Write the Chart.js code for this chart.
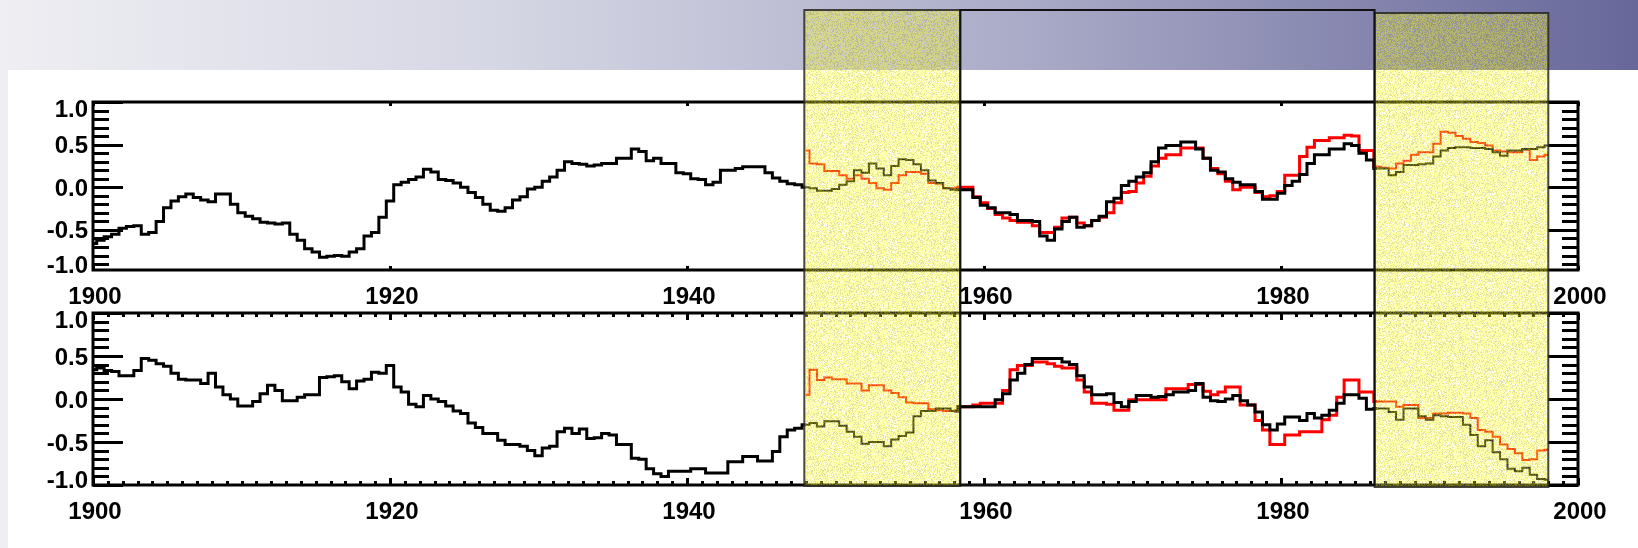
<!DOCTYPE html>
<html>
<head>
<meta charset="utf-8">
<script src="https://cdn.jsdelivr.net/npm/chart.js@4/dist/chart.umd.min.js"></script>
<style>
  html, body { margin: 0; padding: 0; width: 1638px; height: 548px; overflow: hidden; }
  body {
    position: relative;
    background: linear-gradient(to right, #eeeef3 0%, #d6d7e4 30%, #abacc8 62%, #67679a 100%);
  }
  #sheet { position: absolute; left: 8px; top: 70px; right: 0; bottom: 0; background: #ffffff; }
  canvas { position: absolute; left: 0; top: 0; }
</style>
</head>
<body>
<div id="sheet"></div>
<canvas id="upper" width="1638" height="548"></canvas>
<canvas id="lower" width="1638" height="548"></canvas>
<script>
// Half-yearly samples: black series start in 1900, red series start in 1948.
const FIRST_YEAR = 1900;
const RED_FIRST_YEAR = 1948;
const STEP = 0.5;

const yearTicks = [1900, 1920, 1940, 1960, 1980, 2000];
const valueTicks = [1.0, 0.5, 0.0, -0.5, -1.0];
const valueTickLabels = ['1.0', '0.5', '0.0', '-0.5', '-1.0'];

// Upper panel
const upperBlack = [
  -0.66,-0.62,-0.58,-0.55,-0.48,-0.46,-0.45,-0.55,-0.53,-0.40,
  -0.24,-0.16,-0.11,-0.08,-0.12,-0.15,-0.17,-0.08,-0.08,-0.20,
  -0.30,-0.34,-0.37,-0.41,-0.42,-0.43,-0.42,-0.55,-0.62,-0.72,
  -0.76,-0.82,-0.81,-0.80,-0.81,-0.76,-0.72,-0.57,-0.53,-0.35,
  -0.16,0.03,0.06,0.09,0.12,0.21,0.18,0.09,0.08,0.05,
  0.00,-0.06,-0.12,-0.20,-0.27,-0.28,-0.24,-0.15,-0.11,-0.02,
  0.00,0.07,0.12,0.20,0.30,0.28,0.27,0.25,0.26,0.28,
  0.28,0.34,0.34,0.45,0.42,0.31,0.34,0.28,0.28,0.17,
  0.16,0.10,0.09,0.03,0.06,0.20,0.20,0.22,0.24,0.24,
  0.24,0.17,0.11,0.07,0.04,0.03,0.00,-0.01,-0.04,-0.04,
  -0.02,0.03,0.07,0.20,0.17,0.28,0.22,0.14,0.25,0.33,
  0.32,0.27,0.20,0.08,0.05,-0.01,-0.03,-0.03,-0.03,-0.12,
  -0.21,-0.24,-0.30,-0.30,-0.32,-0.39,-0.39,-0.40,-0.57,-0.62,
  -0.49,-0.40,-0.35,-0.47,-0.45,-0.39,-0.34,-0.17,-0.13,0.02,
  0.07,0.12,0.17,0.30,0.46,0.49,0.49,0.53,0.53,0.45,
  0.34,0.20,0.18,0.10,0.06,0.03,0.03,-0.05,-0.14,-0.14,
  -0.07,0.02,0.07,0.15,0.28,0.38,0.38,0.45,0.45,0.51,
  0.49,0.40,0.32,0.22,0.22,0.14,0.18,0.26,0.26,0.27,
  0.28,0.36,0.43,0.46,0.47,0.47,0.46,0.46,0.45,0.41,
  0.37,0.43,0.43,0.45,0.45,0.47,0.49
];
const upperRed = [
  0.43,0.28,0.27,0.19,0.19,0.14,0.10,0.14,0.10,0.05,
  -0.01,-0.03,0.05,0.14,0.18,0.18,0.16,0.05,0.04,-0.01,
  -0.01,0.00,0.00,-0.11,-0.18,-0.25,-0.32,-0.36,-0.39,-0.41,
  -0.41,-0.45,-0.53,-0.53,-0.47,-0.36,-0.35,-0.42,-0.45,-0.39,
  -0.35,-0.30,-0.18,-0.06,-0.05,0.05,0.13,0.25,0.34,0.38,
  0.38,0.46,0.46,0.46,0.34,0.22,0.16,0.07,-0.03,0.00,
  0.00,-0.06,-0.11,-0.10,-0.05,0.14,0.14,0.36,0.47,0.55,
  0.55,0.58,0.58,0.61,0.60,0.43,0.43,0.24,0.23,0.22,
  0.28,0.31,0.38,0.41,0.41,0.51,0.65,0.64,0.60,0.57,
  0.53,0.52,0.49,0.43,0.42,0.41,0.41,0.44,0.32,0.36,
  0.38
];

// Lower panel
const lowerBlack = [
  0.34,0.36,0.33,0.32,0.27,0.27,0.33,0.47,0.45,0.41,
  0.38,0.30,0.23,0.22,0.22,0.18,0.30,0.14,0.05,0.00,
  -0.08,-0.08,-0.03,0.06,0.16,0.10,-0.02,-0.02,0.02,0.05,
  0.05,0.25,0.26,0.27,0.20,0.12,0.21,0.23,0.31,0.30,
  0.39,0.14,0.08,-0.06,-0.09,0.04,0.00,-0.03,-0.08,-0.14,
  -0.17,-0.28,-0.33,-0.40,-0.40,-0.48,-0.53,-0.53,-0.55,-0.60,
  -0.66,-0.57,-0.55,-0.38,-0.34,-0.40,-0.35,-0.46,-0.45,-0.40,
  -0.42,-0.53,-0.53,-0.69,-0.70,-0.81,-0.87,-0.90,-0.84,-0.84,
  -0.84,-0.81,-0.81,-0.86,-0.86,-0.86,-0.73,-0.73,-0.67,-0.67,
  -0.72,-0.72,-0.61,-0.44,-0.36,-0.34,-0.30,-0.28,-0.32,-0.26,
  -0.26,-0.31,-0.38,-0.44,-0.52,-0.50,-0.50,-0.55,-0.47,-0.43,
  -0.39,-0.20,-0.14,-0.14,-0.11,-0.11,-0.14,-0.09,-0.09,-0.09,
  -0.09,-0.09,-0.01,0.06,0.22,0.30,0.40,0.47,0.47,0.47,
  0.47,0.43,0.40,0.27,0.14,0.05,0.05,0.06,-0.04,-0.09,
  -0.03,0.04,0.04,0.02,0.03,0.05,0.08,0.08,0.10,0.18,
  0.02,-0.02,-0.03,0.00,0.04,-0.02,-0.07,-0.15,-0.30,-0.36,
  -0.29,-0.21,-0.21,-0.25,-0.17,-0.22,-0.19,-0.13,-0.05,0.05,
  0.05,0.01,-0.12,-0.11,-0.11,-0.15,-0.24,-0.11,-0.11,-0.20,
  -0.24,-0.19,-0.20,-0.21,-0.21,-0.30,-0.42,-0.55,-0.48,-0.62,
  -0.70,-0.81,-0.84,-0.80,-0.88,-0.93,-0.94
];
const lowerRed = [
  0.05,0.34,0.22,0.25,0.23,0.23,0.18,0.18,0.10,0.16,
  0.16,0.10,0.07,0.02,-0.04,-0.05,-0.05,-0.12,-0.13,-0.14,
  -0.14,-0.09,-0.09,-0.07,-0.05,-0.05,-0.05,0.10,0.34,0.39,
  0.39,0.43,0.43,0.41,0.38,0.36,0.36,0.22,0.08,-0.05,
  -0.05,-0.06,-0.13,-0.13,-0.01,-0.01,-0.01,-0.01,-0.01,0.12,
  0.12,0.12,0.17,0.17,0.09,0.05,0.08,0.14,0.14,-0.07,
  -0.07,-0.25,-0.36,-0.53,-0.53,-0.42,-0.42,-0.38,-0.38,-0.38,
  -0.24,-0.19,0.02,0.22,0.22,0.08,0.08,-0.03,-0.03,-0.03,
  -0.09,-0.07,-0.07,-0.22,-0.22,-0.17,-0.17,-0.16,-0.16,-0.17,
  -0.22,-0.36,-0.38,-0.44,-0.53,-0.58,-0.63,-0.71,-0.70,-0.60,
  -0.59
];

// Highlighted periods (yellow) and the framed period between them
const highlightSpans = [[1947.9, 1958.4], [1986.3, 1998.0]];
const framedSpan = [1958.4, 1986.3];

const FONT = 'bold 24px "Liberation Sans", Arial, sans-serif';

function toPoints(values, first) {
  return values.map((v, i) => ({ x: first + i * STEP, y: v }));
}

function inHighlight(year) {
  return highlightSpans.some(([a, b]) => year >= a && year <= b);
}

function seriesDataset(values, first, color) {
  return {
    data: toPoints(values, first),
    borderColor: color,
    borderWidth: 3,
    pointRadius: 0,
    stepped: 'middle',
    fill: false,
    segment: {
      borderWidth: c => (inHighlight(c.p0.parsed.x) && inHighlight(c.p1.parsed.x)) ? 2 : 3
    }
  };
}

// Frame, inward ticks on all four sides and the tick labels
const frameAxes = {
  id: 'frameAxes',
  afterDatasetsDraw(chart, args, opts) {
    const { ctx, chartArea: a, scales: { x, y } } = chart;
    ctx.save();
    ctx.strokeStyle = '#000';
    ctx.lineCap = 'butt';
    ctx.lineWidth = 3;
    const seg = (x1, y1, x2, y2) => { ctx.beginPath(); ctx.moveTo(x1, y1); ctx.lineTo(x2, y2); ctx.stroke(); };

    // value ticks every 0.1, long ones every 0.5, on left and right
    for (let k = -10; k <= 10; k++) {
      const v = k / 10;
      if (v < y.min - 1e-9 || v > y.max + 1e-9) continue;
      const py = Math.round(y.getPixelForValue(v)) + 0.5;
      const len = (k % 5 === 0) ? 30 : 16;
      seg(a.left, py, a.left + len, py);
      seg(a.right, py, a.right - len, py);
    }
    // year ticks
    for (let yr = 1900; yr <= 2000; yr++) {
      const major = yr % 20 === 0;
      if (!major && !opts.minorYears) continue;
      const px = Math.round(x.getPixelForValue(yr)) + 0.5;
      const len = major ? opts.majorLen : 4;
      seg(px, a.top, px, a.top + len);
      seg(px, a.bottom, px, a.bottom - len);
    }
    ctx.strokeRect(a.left, a.top, a.right - a.left, a.bottom - a.top);

    // labels
    ctx.fillStyle = '#000';
    ctx.font = FONT;
    ctx.textBaseline = 'alphabetic';
    ctx.textAlign = 'right';
    valueTicks.forEach((v, i) => {
      let py = y.getPixelForValue(v);
      py = Math.min(Math.max(py, a.top + 6), a.bottom - 6);
      ctx.fillText(valueTickLabels[i], a.left - 5, py + 8.5);
    });
    ctx.textAlign = 'center';
    yearTicks.forEach(yr => {
      ctx.fillText(String(yr), x.getPixelForValue(yr) + 2, a.bottom + 34);
    });
    ctx.restore();
  }
};

// Grainy translucent yellow fill: mostly pale yellow, with darker olive and faint specks
function makeGrain(ctx) {
  const w = 97, h = 89;
  const c = document.createElement('canvas');
  c.width = w; c.height = h;
  const g = c.getContext('2d');
  const img = g.createImageData(w, h);
  for (let j = 0; j < h; j++) {
    for (let i = 0; i < w; i++) {
      let n = Math.imul(i * 374761393 + j * 668265263, 1274126177) ^ 0x5bd1e995;
      n = Math.imul(n ^ (n >>> 15), 2246822519);
      n ^= n >>> 13;
      const r = (n >>> 0) / 4294967296;
      const p = (j * w + i) * 4;
      let col, alpha;
      if (r < 0.6) { col = [255, 255, 40]; alpha = 0.36 + 0.12 * (r / 0.6); }
      else if (r < 0.85) { col = [190, 190, 40]; alpha = 0.42; }
      else { col = [255, 255, 200]; alpha = 0.2; }
      img.data[p] = col[0]; img.data[p + 1] = col[1]; img.data[p + 2] = col[2];
      img.data[p + 3] = Math.round(255 * alpha);
    }
  }
  g.putImageData(img, 0, 0);
  return ctx.createPattern(c, 'repeat');
}

const highlightOverlay = {
  id: 'highlightOverlay',
  afterDraw(chart) {
    const { ctx, chartArea: a, scales: { x } } = chart;
    ctx.save();
    const grain = makeGrain(ctx);
    const tops = [10, 13];
    highlightSpans.forEach(([s, e], i) => {
      const l = x.getPixelForValue(s), r = x.getPixelForValue(e);
      const t = tops[i], b = a.bottom + 1 + i;
      ctx.fillStyle = grain;
      ctx.fillRect(l, t, r - l, b - t);
      ctx.strokeStyle = 'rgba(40,40,30,0.85)';
      ctx.lineWidth = 2;
      ctx.strokeRect(l, t, r - l, b - t);
    });
    const l = x.getPixelForValue(framedSpan[0]), r = x.getPixelForValue(framedSpan[1]);
    ctx.strokeStyle = '#111';
    ctx.lineWidth = 2;
    ctx.strokeRect(l, 10, r - l, a.bottom - 10);
    ctx.restore();
  }
};

function makePanel(canvasId, black, red, yMin, padTop, padBottom, opts, extraPlugins) {
  return new Chart(document.getElementById(canvasId), {
    type: 'line',
    data: {
      datasets: [
        seriesDataset(black, FIRST_YEAR, '#000000'),
        seriesDataset(red, RED_FIRST_YEAR, '#ff0000')
      ]
    },
    options: {
      responsive: false,
      animation: false,
      devicePixelRatio: 1,
      layout: { padding: { left: 93, right: 60, top: padTop, bottom: padBottom } },
      scales: {
        x: { type: 'linear', min: 1900, max: 2000, display: false },
        y: { type: 'linear', min: yMin, max: 1.0, display: false }
      },
      plugins: {
        legend: { display: false },
        tooltip: { enabled: false },
        frameAxes: opts
      }
    },
    plugins: [frameAxes].concat(extraPlugins)
  });
}

makePanel('upper', upperBlack, upperRed, -0.97, 102, 548 - 270, { minorYears: false, majorLen: 4 }, []);
makePanel('lower', lowerBlack, lowerRed, -1.0, 313, 548 - 485, { minorYears: true, majorLen: 7 }, [highlightOverlay]);
</script>
</body>
</html>
